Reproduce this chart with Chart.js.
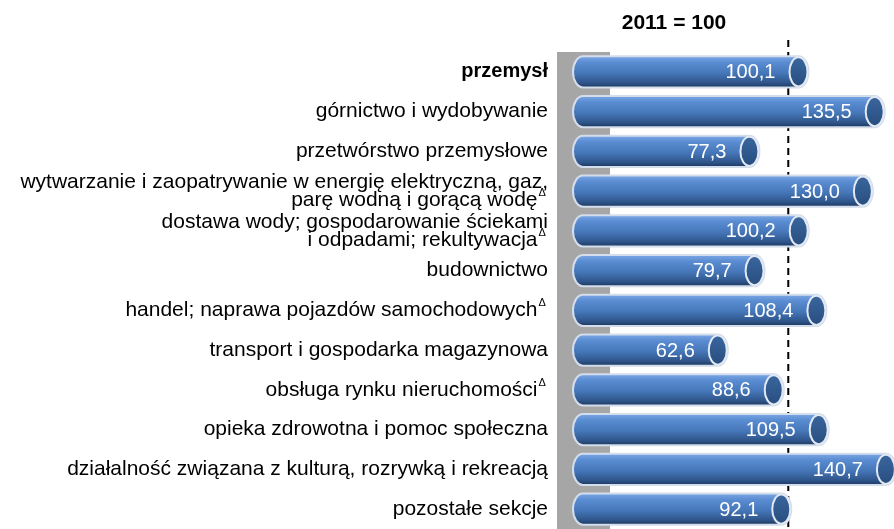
<!DOCTYPE html>
<html><head><meta charset="utf-8">
<script src="https://cdn.jsdelivr.net/npm/chart.js@4/dist/chart.umd.min.js"></script>
<style>html,body{margin:0;padding:0;background:#fff}#wrap{width:894px;height:529px}</style>
</head><body><div id="wrap"><canvas id="c" width="894" height="529"></canvas></div>
<script>
const categories = [
  ['przemysł'],
  ['górnictwo i wydobywanie'],
  ['przetwórstwo przemysłowe'],
  ['wytwarzanie i zaopatrywanie w energię elektryczną, gaz,', 'parę wodną i gorącą wodę'],
  ['dostawa wody; gospodarowanie ściekami', 'i odpadami; rekultywacja'],
  ['budownictwo'],
  ['handel; naprawa pojazdów samochodowych'],
  ['transport i gospodarka magazynowa'],
  ['obsługa rynku nieruchomości'],
  ['opieka zdrowotna i pomoc społeczna'],
  ['działalność związana z kulturą, rozrywką i rekreacją'],
  ['pozostałe sekcje']
];
const deltaMarked = [false, false, false, true, true, false, true, false, true, false, false, false];
const values = [100.1, 135.5, 77.3, 130.0, 100.2, 79.7, 108.4, 62.6, 88.6, 109.5, 140.7, 92.1];
const referenceValue = 100;
const titleText = '2011 = 100';

const FONT = '"Liberation Sans", Arial, sans-serif';
const LABEL_SIZE = 21;
const LINE_H = 18;
const SPACER = '\u2002';

const tickLabels = categories.map((lines, i) => {
  const l = lines.slice();
  if (deltaMarked[i]) l[l.length - 1] = l[l.length - 1] + SPACER;
  return l.length === 1 ? l[0] : l;
});

const decor = {
  id: 'decor',
  beforeDatasetsDraw(chart) {
    const ctx = chart.ctx, a = chart.chartArea, xs = chart.scales.x;
    ctx.save();
    ctx.fillStyle = '#a6a6a6';
    ctx.fillRect(a.left - 26, a.top, 53, chart.height - a.top);
    const rx = xs.getPixelForValue(referenceValue) - 10;
    ctx.strokeStyle = '#000';
    ctx.lineWidth = 2;
    ctx.setLineDash([7, 5]);
    ctx.beginPath();
    ctx.moveTo(rx, 40);
    ctx.lineTo(rx, chart.height);
    ctx.stroke();
    ctx.restore();
  },
  afterDatasetsDraw(chart) {
    const ctx = chart.ctx;
    const meta = chart.getDatasetMeta(0);
    ctx.save();
    meta.data.forEach((el, i) => {
      const p = el.getProps(['x', 'y', 'base', 'height'], true);
      const r = p.height / 2, ex = 10;
      const g = ctx.createLinearGradient(0, p.y - r, 0, p.y + r);
      g.addColorStop(0, '#7aa6e4');
      g.addColorStop(0.2, '#5a8cd2');
      g.addColorStop(0.55, '#4576b8');
      g.addColorStop(0.85, '#2f558a');
      g.addColorStop(1, '#1d3961');
      ctx.beginPath();
      ctx.moveTo(p.base, p.y - r);
      ctx.lineTo(p.x, p.y - r);
      ctx.ellipse(p.x, p.y, ex, r, 0, -Math.PI / 2, Math.PI / 2);
      ctx.lineTo(p.base, p.y + r);
      ctx.ellipse(p.base, p.y, ex, r, 0, Math.PI / 2, 3 * Math.PI / 2);
      ctx.closePath();
      ctx.fillStyle = g;
      ctx.fill();
      ctx.strokeStyle = '#d3ddeb';
      ctx.lineWidth = 2;
      ctx.stroke();
      ctx.beginPath();
      ctx.ellipse(p.x, p.y, ex - 1, r - 1, 0, 0, Math.PI * 2);
      const cg = ctx.createLinearGradient(0, p.y - r, 0, p.y + r);
      cg.addColorStop(0, '#3a679f');
      cg.addColorStop(1, '#284d7e');
      ctx.fillStyle = cg;
      ctx.fill();
      ctx.strokeStyle = '#e2e9f3';
      ctx.lineWidth = 2;
      ctx.stroke();
      ctx.fillStyle = '#ffffff';
      ctx.font = '20px ' + FONT;
      ctx.textAlign = 'right';
      ctx.textBaseline = 'middle';
      ctx.fillText(values[i].toFixed(1).replace('.', ','), p.x - 23, p.y + 1);
    });
    ctx.restore();
  },
  afterDraw(chart) {
    const ctx = chart.ctx, ys = chart.scales.y;
    ctx.save();
    ctx.fillStyle = '#000';
    ctx.font = 'bold 21px ' + FONT;
    ctx.textAlign = 'center';
    ctx.textBaseline = 'middle';
    ctx.fillText(titleText, 674, 23);
    ctx.font = LABEL_SIZE + 'px ' + FONT;
    const spaceW = ctx.measureText(SPACER).width;
    ctx.font = '11px ' + FONT;
    ctx.textAlign = 'left';
    categories.forEach((lines, i) => {
      if (!deltaMarked[i]) return;
      const y = ys.getPixelForTick(i) + (lines.length - 1) * LINE_H / 2;
      ctx.fillText('\u0394', ys.right - 35 - spaceW + 1, y - 7);
    });
    ctx.restore();
  }
};

new Chart(document.getElementById('c'), {
  type: 'bar',
  data: {
    labels: tickLabels,
    datasets: [{
      data: values,
      backgroundColor: '#4f81bd',
      borderWidth: 0,
      barPercentage: 0.78,
      categoryPercentage: 1
    }]
  },
  options: {
    responsive: false,
    animation: false,
    indexAxis: 'y',
    layout: { padding: { top: 52, bottom: 0, left: 0, right: 1 } },
    plugins: { legend: { display: false }, tooltip: { enabled: false }, title: { display: false } },
    scales: {
      x: { display: false, min: 0, max: 144 },
      y: {
        afterFit(s) { s.width = 583; s.paddingTop = 0; s.paddingBottom = 0; },
        grid: { display: false, drawTicks: false },
        border: { display: false },
        ticks: {
          autoSkip: false,
          padding: 35,
          color: '#000',
          font: (c) => ({
            family: FONT,
            size: c.index === 0 ? 20 : LABEL_SIZE,
            lineHeight: c.index === 0 ? 1 : LINE_H / LABEL_SIZE,
            weight: c.index === 0 ? 'bold' : 'normal'
          })
        }
      }
    }
  },
  plugins: [decor]
});
</script>
</body></html>
